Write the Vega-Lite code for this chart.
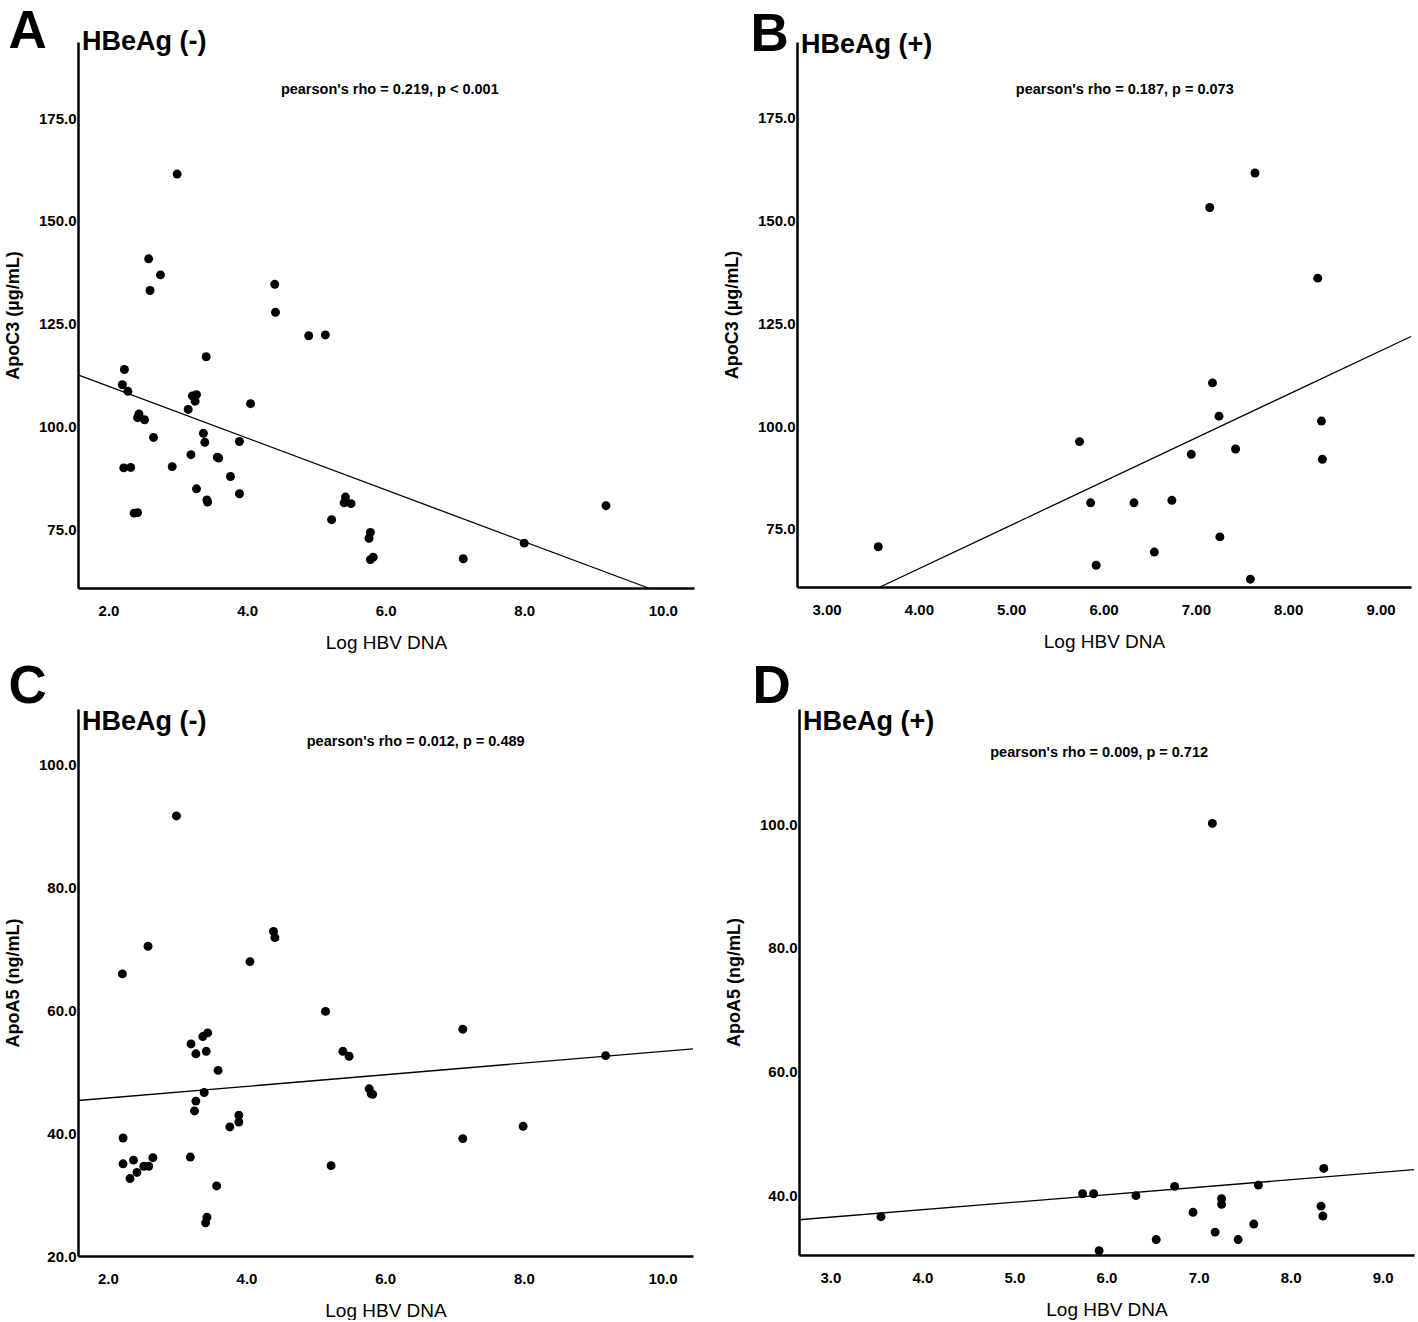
{
  "$schema": "https://vega.github.io/schema/vega-lite/v6.json",
  "background": "white",
  "padding": {"left": 4, "top": 6, "right": 0, "bottom": 0},
  "datasets": {
    "A": [
      {"logHBV":2.99,"value":161.4},{"logHBV":2.58,"value":140.8},{"logHBV":2.75,"value":136.9},{"logHBV":2.60,"value":133.1},{"logHBV":4.40,"value":134.6},{"logHBV":4.41,"value":127.8},{"logHBV":4.89,"value":122.1},{"logHBV":5.13,"value":122.3},{"logHBV":3.41,"value":117.0},{"logHBV":2.23,"value":113.9},{"logHBV":2.20,"value":110.2},{"logHBV":2.28,"value":108.6},{"logHBV":3.21,"value":107.5},{"logHBV":3.27,"value":107.8},{"logHBV":3.25,"value":106.2},{"logHBV":3.15,"value":104.2},{"logHBV":4.05,"value":105.6},{"logHBV":2.44,"value":103.1},{"logHBV":2.42,"value":102.2},{"logHBV":2.52,"value":101.7},{"logHBV":2.65,"value":97.4},{"logHBV":3.37,"value":98.4},{"logHBV":3.39,"value":96.2},{"logHBV":3.89,"value":96.4},{"logHBV":3.19,"value":93.2},{"logHBV":3.57,"value":92.6},{"logHBV":3.59,"value":92.4},{"logHBV":2.22,"value":90.0},{"logHBV":2.32,"value":90.1},{"logHBV":2.92,"value":90.3},{"logHBV":3.76,"value":87.9},{"logHBV":3.27,"value":84.9},{"logHBV":3.89,"value":83.7},{"logHBV":3.43,"value":81.7},{"logHBV":3.42,"value":82.2},{"logHBV":2.37,"value":79.0},{"logHBV":2.42,"value":79.1},{"logHBV":5.42,"value":82.9},{"logHBV":5.40,"value":81.5},{"logHBV":5.50,"value":81.3},{"logHBV":5.22,"value":77.4},{"logHBV":5.78,"value":74.3},{"logHBV":5.76,"value":72.9},{"logHBV":5.78,"value":67.7},{"logHBV":5.82,"value":68.3},{"logHBV":7.12,"value":67.9},{"logHBV":8.00,"value":71.7},{"logHBV":9.18,"value":80.8}
    ],
    "fitA": [{"logHBV":1.56,"value":112.6},{"logHBV":9.79,"value":60.8}],
    "B": [
      {"logHBV":3.56,"value":70.6},{"logHBV":5.74,"value":96.2},{"logHBV":5.86,"value":81.3},{"logHBV":5.92,"value":66.1},{"logHBV":6.33,"value":81.3},{"logHBV":6.55,"value":69.3},{"logHBV":6.74,"value":81.9},{"logHBV":6.95,"value":93.1},{"logHBV":7.18,"value":110.5},{"logHBV":7.25,"value":102.4},{"logHBV":7.26,"value":73.0},{"logHBV":7.43,"value":94.4},{"logHBV":7.59,"value":62.7},{"logHBV":8.36,"value":101.2},{"logHBV":8.37,"value":91.9},{"logHBV":7.15,"value":153.2},{"logHBV":7.64,"value":161.6},{"logHBV":8.32,"value":136.0}
    ],
    "fitB": [{"logHBV":3.58,"value":60.8},{"logHBV":9.33,"value":121.8}],
    "C": [
      {"logHBV":2.99,"value":91.6},{"logHBV":2.58,"value":70.4},{"logHBV":2.21,"value":65.9},{"logHBV":4.05,"value":67.9},{"logHBV":4.39,"value":72.8},{"logHBV":4.41,"value":71.8},{"logHBV":5.14,"value":59.8},{"logHBV":7.12,"value":56.9},{"logHBV":3.44,"value":56.3},{"logHBV":3.37,"value":55.7},{"logHBV":3.20,"value":54.5},{"logHBV":3.27,"value":52.9},{"logHBV":3.42,"value":53.3},{"logHBV":5.39,"value":53.3},{"logHBV":5.48,"value":52.5},{"logHBV":9.18,"value":52.6},{"logHBV":3.59,"value":50.2},{"logHBV":3.39,"value":46.6},{"logHBV":5.77,"value":47.2},{"logHBV":5.80,"value":46.4},{"logHBV":5.82,"value":46.3},{"logHBV":3.27,"value":45.2},{"logHBV":3.25,"value":43.6},{"logHBV":3.89,"value":42.9},{"logHBV":3.89,"value":41.8},{"logHBV":3.76,"value":41.0},{"logHBV":7.99,"value":41.1},{"logHBV":2.22,"value":39.2},{"logHBV":7.12,"value":39.1},{"logHBV":3.19,"value":36.1},{"logHBV":2.65,"value":36.0},{"logHBV":2.37,"value":35.6},{"logHBV":2.22,"value":35.0},{"logHBV":2.52,"value":34.6},{"logHBV":2.59,"value":34.6},{"logHBV":2.42,"value":33.6},{"logHBV":2.32,"value":32.6},{"logHBV":5.22,"value":34.7},{"logHBV":3.57,"value":31.4},{"logHBV":3.43,"value":26.3},{"logHBV":3.41,"value":25.4}
    ],
    "fitC": [{"logHBV":1.57,"value":45.3},{"logHBV":10.44,"value":53.7}],
    "D": [
      {"logHBV":3.55,"value":36.5},{"logHBV":5.74,"value":40.2},{"logHBV":5.86,"value":40.2},{"logHBV":5.92,"value":31.0},{"logHBV":6.32,"value":39.9},{"logHBV":6.54,"value":32.8},{"logHBV":6.74,"value":41.4},{"logHBV":6.94,"value":37.2},{"logHBV":7.18,"value":34.0},{"logHBV":7.25,"value":39.4},{"logHBV":7.25,"value":38.5},{"logHBV":7.43,"value":32.8},{"logHBV":7.60,"value":35.3},{"logHBV":7.65,"value":41.6},{"logHBV":8.33,"value":38.2},{"logHBV":8.35,"value":36.6},{"logHBV":8.36,"value":44.3},{"logHBV":7.15,"value":100.1}
    ],
    "fitD": [{"logHBV":2.66,"value":36.0},{"logHBV":9.34,"value":44.1}],
    "labels": [
      {"panel":"A","group":"HBeAg (-)","stat":"pearson's rho = 0.219, p < 0.001"},
      {"panel":"B","group":"HBeAg (+)","stat":"pearson's rho = 0.187, p = 0.073"},
      {"panel":"C","group":"HBeAg (-)","stat":"pearson's rho = 0.012, p = 0.489"},
      {"panel":"D","group":"HBeAg (+)","stat":"pearson's rho = 0.009, p = 0.712"}
    ]
  },
  "vconcat": [
    {
      "hconcat": [
        {
          "width": 616, "height": 546,
          "title": {"text": "A", "anchor": "start", "frame": "bounds", "offset": -31, "dx": 4},
          "layer": [
            {"data": {"name": "A"}, "mark": {"type": "circle", "size": 80, "color": "black", "opacity": 1, "clip": false},
             "encoding": {
               "x": {"field": "logHBV", "type": "quantitative", "title": "Log HBV DNA", "scale": {"domain": [1.56, 10.45], "nice": false, "zero": false}, "axis": {"values": [2,4,6,8,10], "format": ".1f"}},
               "y": {"field": "value", "type": "quantitative", "title": "ApoC3 (µg/mL)", "scale": {"domain": [60.8, 193.5], "nice": false, "zero": false}, "axis": {"values": [75,100,125,150,175], "format": ".1f"}}}},
            {"data": {"name": "fitA"}, "mark": {"type": "line", "color": "black", "strokeWidth": 1.3},
             "encoding": {"x": {"field": "logHBV", "type": "quantitative"}, "y": {"field": "value", "type": "quantitative"}}},
            {"data": {"name": "labels"}, "transform": [{"filter": "datum.panel === 'A'"}],
             "mark": {"type": "text", "font": "Liberation Sans", "fontWeight": "bold", "fontSize": 14.5, "align": "center", "baseline": "middle"},
             "encoding": {"x": {"datum": 6.06, "type": "quantitative"}, "y": {"datum": 181.8, "type": "quantitative"}, "text": {"field": "stat"}}},
            {"data": {"name": "labels"}, "transform": [{"filter": "datum.panel === 'A'"}],
             "mark": {"type": "text", "font": "Liberation Sans", "fontWeight": "bold", "fontSize": 27, "align": "left", "baseline": "middle", "dx": 4},
             "encoding": {"x": {"datum": 1.56, "type": "quantitative"}, "y": {"datum": 193.5, "type": "quantitative"}, "text": {"field": "group"}}}
          ]
        },
        {
          "width": 614, "height": 545,
          "title": {"text": "B", "anchor": "start", "frame": "bounds", "offset": -31, "dx": 27},
          "layer": [
            {"data": {"name": "B"}, "mark": {"type": "circle", "size": 80, "color": "black", "opacity": 1, "clip": false},
             "encoding": {
               "x": {"field": "logHBV", "type": "quantitative", "title": "Log HBV DNA", "scale": {"domain": [2.68, 9.33], "nice": false, "zero": false}, "axis": {"values": [3,4,5,6,7,8,9], "format": ".2f"}},
               "y": {"field": "value", "type": "quantitative", "title": "ApoC3 (µg/mL)", "scale": {"domain": [60.8, 193.5], "nice": false, "zero": false}, "axis": {"values": [75,100,125,150,175], "format": ".1f"}}}},
            {"data": {"name": "fitB"}, "mark": {"type": "line", "color": "black", "strokeWidth": 1.3},
             "encoding": {"x": {"field": "logHBV", "type": "quantitative"}, "y": {"field": "value", "type": "quantitative"}}},
            {"data": {"name": "labels"}, "transform": [{"filter": "datum.panel === 'B'"}],
             "mark": {"type": "text", "font": "Liberation Sans", "fontWeight": "bold", "fontSize": 14.5, "align": "center", "baseline": "middle"},
             "encoding": {"x": {"datum": 6.23, "type": "quantitative"}, "y": {"datum": 181.8, "type": "quantitative"}, "text": {"field": "stat"}}},
            {"data": {"name": "labels"}, "transform": [{"filter": "datum.panel === 'B'"}],
             "mark": {"type": "text", "font": "Liberation Sans", "fontWeight": "bold", "fontSize": 27, "align": "left", "baseline": "middle", "dx": 4, "dy": 3},
             "encoding": {"x": {"datum": 2.68, "type": "quantitative"}, "y": {"datum": 193.5, "type": "quantitative"}, "text": {"field": "group"}}}
          ]
        }
      ],
      "spacing": 29
    },
    {
      "hconcat": [
        {
          "width": 615, "height": 547,
          "title": {"text": "C", "anchor": "start", "frame": "bounds", "offset": -6, "dx": 4},
          "layer": [
            {"data": {"name": "C"}, "mark": {"type": "circle", "size": 80, "color": "black", "opacity": 1, "clip": false},
             "encoding": {
               "x": {"field": "logHBV", "type": "quantitative", "title": "Log HBV DNA", "scale": {"domain": [1.57, 10.44], "nice": false, "zero": false}, "axis": {"values": [2,4,6,8,10], "format": ".1f"}},
               "y": {"field": "value", "type": "quantitative", "title": "ApoA5 (ng/mL)", "scale": {"domain": [20, 109], "nice": false, "zero": false}, "axis": {"values": [20,40,60,80,100], "format": ".1f"}}}},
            {"data": {"name": "fitC"}, "mark": {"type": "line", "color": "black", "strokeWidth": 1.3},
             "encoding": {"x": {"field": "logHBV", "type": "quantitative"}, "y": {"field": "value", "type": "quantitative"}}},
            {"data": {"name": "labels"}, "transform": [{"filter": "datum.panel === 'C'"}],
             "mark": {"type": "text", "font": "Liberation Sans", "fontWeight": "bold", "fontSize": 14.5, "align": "center", "baseline": "middle"},
             "encoding": {"x": {"datum": 6.44, "type": "quantitative"}, "y": {"datum": 103.6, "type": "quantitative"}, "text": {"field": "stat"}}},
            {"data": {"name": "labels"}, "transform": [{"filter": "datum.panel === 'C'"}],
             "mark": {"type": "text", "font": "Liberation Sans", "fontWeight": "bold", "fontSize": 27, "align": "left", "baseline": "middle", "dx": 4, "dy": 13},
             "encoding": {"x": {"datum": 1.57, "type": "quantitative"}, "y": {"datum": 109, "type": "quantitative"}, "text": {"field": "group"}}}
          ]
        },
        {
          "width": 615, "height": 546,
          "title": {"text": "D", "anchor": "start", "frame": "bounds", "offset": -6, "dx": 27},
          "layer": [
            {"data": {"name": "D"}, "mark": {"type": "circle", "size": 80, "color": "black", "opacity": 1, "clip": false},
             "encoding": {
               "x": {"field": "logHBV", "type": "quantitative", "title": "Log HBV DNA", "scale": {"domain": [2.66, 9.34], "nice": false, "zero": false}, "axis": {"values": [3,4,5,6,7,8,9], "format": ".1f"}},
               "y": {"field": "value", "type": "quantitative", "title": "ApoA5 (ng/mL)", "scale": {"domain": [30.3, 118.6], "nice": false, "zero": false}, "axis": {"values": [40,60,80,100], "format": ".1f"}}}},
            {"data": {"name": "fitD"}, "mark": {"type": "line", "color": "black", "strokeWidth": 1.3},
             "encoding": {"x": {"field": "logHBV", "type": "quantitative"}, "y": {"field": "value", "type": "quantitative"}}},
            {"data": {"name": "labels"}, "transform": [{"filter": "datum.panel === 'D'"}],
             "mark": {"type": "text", "font": "Liberation Sans", "fontWeight": "bold", "fontSize": 14.5, "align": "center", "baseline": "middle"},
             "encoding": {"x": {"datum": 5.92, "type": "quantitative"}, "y": {"datum": 111.5, "type": "quantitative"}, "text": {"field": "stat"}}},
            {"data": {"name": "labels"}, "transform": [{"filter": "datum.panel === 'D'"}],
             "mark": {"type": "text", "font": "Liberation Sans", "fontWeight": "bold", "fontSize": 27, "align": "left", "baseline": "middle", "dx": 4, "dy": 13},
             "encoding": {"x": {"datum": 2.66, "type": "quantitative"}, "y": {"datum": 118.6, "type": "quantitative"}, "text": {"field": "group"}}}
          ]
        }
      ],
      "spacing": 29
    }
  ],
  "spacing": 9,
  "config": {
    "view": {"stroke": null},
    "title": {"font": "Liberation Sans", "fontWeight": "bold", "fontSize": 53, "color": "black"},
    "axis": {
      "domainColor": "black", "domainWidth": 2.5, "ticks": false, "grid": false,
      "labelFont": "Liberation Sans", "labelFontWeight": "bold", "labelFontSize": 15, "labelColor": "black",
      "labelOverlap": false, "labelFlush": false, "titleColor": "black"
    },
    "axisX": {"labelPadding": 15, "titleFont": "Liberation Sans", "titleFontWeight": "normal", "titleFontSize": 19, "titlePadding": 15},
    "axisY": {"labelPadding": 2, "titleFont": "Liberation Sans", "titleFontWeight": "bold", "titleFontSize": 18, "titlePadding": 16}
  }
}
